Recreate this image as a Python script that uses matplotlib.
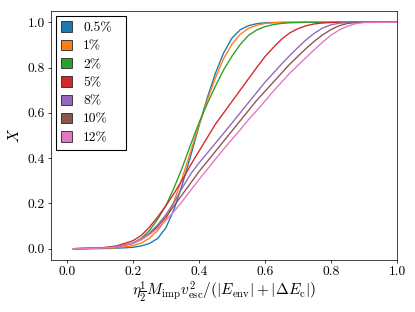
import matplotlib
matplotlib.use("Agg")
import matplotlib.pyplot as plt
from matplotlib.patches import Patch
import numpy as np

plt.rcParams['font.family'] = 'serif'
plt.rcParams['font.serif'] = ['cmr10']
plt.rcParams['mathtext.fontset'] = 'cm'
plt.rcParams['axes.formatter.use_mathtext'] = True
plt.rcParams['axes.unicode_minus'] = False

x = [0.02, 0.1, 0.15, 0.2, 0.225, 0.25, 0.275, 0.3, 0.325, 0.35, 0.375, 0.4,
     0.425, 0.45, 0.475, 0.5, 0.525, 0.55, 0.575, 0.6, 0.625, 0.65, 0.675,
     0.7, 0.725, 0.75, 0.775, 0.8, 0.825, 0.85, 0.875, 0.9, 0.95, 1.05]

labels = ['0.5%', '1%', '2%', '5%', '8%', '10%', '12%']
colors = ['#1f77b4', '#ff7f0e', '#2ca02c', '#d62728', '#9467bd', '#8c564b', '#e377c2']

y_05 = [0.0, 0.0005, 0.002, 0.006, 0.012, 0.023, 0.045, 0.092, 0.175, 0.285, 0.41, 0.54,
        0.665, 0.775, 0.865, 0.93, 0.967, 0.985, 0.994, 0.998, 0.999, 1.0, 1.0,
        1.0, 1.0, 1.0, 1.0, 1.0, 1.0, 1.0, 1.0, 1.0, 1.0, 1.0]
y_1 = [0.0, 0.001, 0.004, 0.013, 0.025, 0.046, 0.08, 0.13, 0.21, 0.315, 0.43, 0.545,
       0.655, 0.755, 0.84, 0.903, 0.947, 0.973, 0.987, 0.995, 0.998, 0.999, 1.0,
       1.0, 1.0, 1.0, 1.0, 1.0, 1.0, 1.0, 1.0, 1.0, 1.0, 1.0]
y_2 = [0.0, 0.002, 0.007, 0.025, 0.045, 0.08, 0.13, 0.19, 0.27, 0.36, 0.46, 0.555,
       0.64, 0.718, 0.79, 0.85, 0.902, 0.942, 0.966, 0.981, 0.99, 0.995, 0.998,
       0.999, 1.0, 1.0, 1.0, 1.0, 1.0, 1.0, 1.0, 1.0, 1.0, 1.0]
y_5 = [0.0, 0.003, 0.012, 0.035, 0.058, 0.095, 0.14, 0.19, 0.245, 0.305, 0.37, 0.43,
       0.49, 0.55, 0.60, 0.65, 0.70, 0.75, 0.80, 0.848, 0.888, 0.925, 0.953,
       0.972, 0.985, 0.993, 0.997, 0.999, 1.0, 1.0, 1.0, 1.0, 1.0, 1.0]
y_8 = [0.0, 0.002, 0.008, 0.025, 0.042, 0.068, 0.105, 0.15, 0.205, 0.27, 0.33, 0.378,
       0.422, 0.466, 0.51, 0.555, 0.60, 0.645, 0.69, 0.735, 0.775, 0.815, 0.853,
       0.889, 0.923, 0.952, 0.975, 0.989, 0.996, 0.999, 1.0, 1.0, 1.0, 1.0]
y_10 = [0.0, 0.002, 0.007, 0.023, 0.04, 0.065, 0.098, 0.14, 0.19, 0.24, 0.29, 0.34,
        0.385, 0.43, 0.475, 0.52, 0.565, 0.61, 0.655, 0.695, 0.735, 0.775, 0.815,
        0.85, 0.885, 0.917, 0.945, 0.968, 0.985, 0.995, 0.999, 1.0, 1.0, 1.0]
y_12 = [0.0, 0.002, 0.007, 0.024, 0.04, 0.062, 0.09, 0.125, 0.165, 0.21, 0.258, 0.305,
        0.35, 0.395, 0.44, 0.483, 0.525, 0.57, 0.61, 0.652, 0.695, 0.735, 0.775,
        0.81, 0.845, 0.88, 0.913, 0.943, 0.966, 0.983, 0.994, 0.999, 1.0, 1.0]

series = [y_05, y_1, y_2, y_5, y_8, y_10, y_12]

fig = plt.figure(figsize=(415 / 65, 4.8), dpi=65)
ax = fig.add_axes([51 / 415, 52 / 312, 346 / 415, 249 / 312])

for ys, c in zip(series, colors):
    ax.plot(x, ys, color=c, lw=1.5)

ax.set_xlim(-0.048, 1.0)
ax.set_ylim(-0.05, 1.05)
ax.set_xticks([0.0, 0.2, 0.4, 0.6, 0.8, 1.0])
ax.set_yticks([0.0, 0.2, 0.4, 0.6, 0.8, 1.0])
ax.set_xticklabels(['0.0', '0.2', '0.4', '0.6', '0.8', '1.0'])
ax.set_yticklabels(['0.0', '0.2', '0.4', '0.6', '0.8', '1.0'])
ax.tick_params(labelsize=15)

ax.set_xlabel(r'$\eta\frac{1}{2}M_{\rm imp}v_{\rm esc}^2/(|E_{\rm env}|+|\Delta E_{\rm c}|)$',
              fontsize=17, labelpad=1)
ax.set_ylabel(r'$X$', fontsize=17, labelpad=6)

handles = [Patch(facecolor=c, edgecolor='#333333', lw=1.0) for c in colors]
leg = ax.legend(handles, labels, loc='upper left', fontsize=15, fancybox=False,
                edgecolor='black', framealpha=1, handlelength=0.8, handleheight=0.8,
                labelspacing=0.4, handletextpad=0.8, borderpad=0.4,
                bbox_to_anchor=(5 / 346, 1 - 5 / 249, 70 / 346, 0.0),
                mode='expand', borderaxespad=0.0)
leg.get_frame().set_linewidth(1.2)

fig.savefig('out.png', dpi=65)
